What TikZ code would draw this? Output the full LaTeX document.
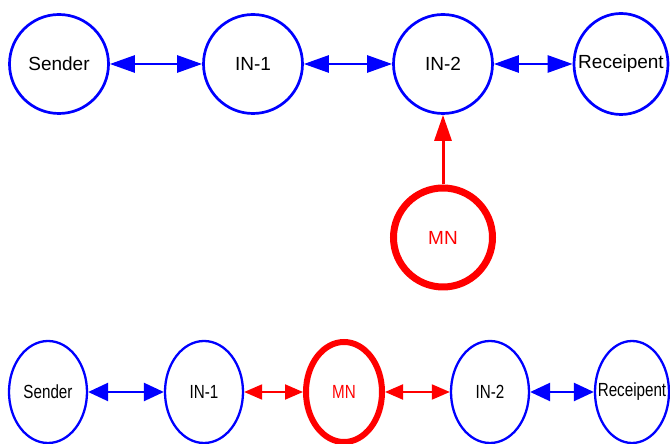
\documentclass[tikz,border=0pt]{standalone}
\usepackage{fontspec}
\setmainfont{Liberation Sans}
\usetikzlibrary{arrows.meta,shapes.geometric}
\definecolor{nblue}{RGB}{0,0,255}
\definecolor{nred}{RGB}{255,0,0}
\begin{document}
\begin{tikzpicture}[x=1pt,y=1pt,
  topnode/.style={circle,draw=nblue,line width=2.7pt,minimum size=99pt,inner sep=0pt,font=\fontsize{19}{22}\selectfont},
  mntop/.style={circle,draw=nred,line width=7pt,minimum size=99pt,inner sep=0pt,text=nred,font=\fontsize{19}{22}\selectfont},
  botnode/.style={ellipse,draw=nblue,line width=2.3pt,minimum width=78pt,minimum height=102pt,inner sep=0pt,font=\fontsize{19}{22}\selectfont},
  mnbot/.style={ellipse,draw=nred,line width=6pt,minimum width=76pt,minimum height=100pt,inner sep=0pt,text=nred,font=\fontsize{19}{22}\selectfont},
  bluetop/.style={draw=nblue,line width=2.7pt,{Triangle[length=25pt,width=17pt]}-{Triangle[length=25pt,width=17pt]}},
  redup/.style={draw=nred,line width=3pt,-{Triangle[length=26pt,width=17pt]}},
  bluebot/.style={draw=nblue,line width=2.4pt,{Triangle[length=20pt,width=18pt]}-{Triangle[length=20pt,width=18pt]}},
  redbot/.style={draw=nred,line width=2pt,{Triangle[length=18pt,width=15pt]}-{Triangle[length=18pt,width=15pt]}}
]
\useasboundingbox (0,0) rectangle (670,444);
% top row
\node[topnode] (s1) at (59,380) {Sender};
\node[topnode] (a1) at (253,380) {IN-1};
\node[topnode] (b1) at (443,380) {IN-2};
\node[topnode,shape=ellipse,minimum width=94pt,minimum height=101pt] (r1) at (621,380) {\makebox[0pt]{Receipent}};
\node[mntop] (m1) at (443,206.5) {MN};
\draw[bluetop] (s1) -- (a1);
\draw[bluetop] (a1) -- (b1);
\draw[bluetop] (b1) -- (r1);
\draw[redup] (m1) -- (b1);
% bottom row
\node[botnode] (s2) at (48,52) {\scalebox{0.8}[1]{Sender}};
\node[botnode] (a2) at (204,52) {\scalebox{0.8}[1]{IN-1}};
\node[mnbot] (m2) at (344,52) {\scalebox{0.8}[1]{MN}};
\node[botnode] (b2) at (490,52) {\scalebox{0.8}[1]{IN-2}};
\node[botnode,minimum width=74pt] (r2) at (632,52) {\makebox[0pt]{\scalebox{0.8}[1]{Receipent}}};
\draw[bluebot] (s2) -- (a2);
\draw[redbot] (a2) -- (m2);
\draw[redbot] (m2) -- (b2);
\draw[bluebot] (b2) -- (r2);
\end{tikzpicture}
\end{document}
